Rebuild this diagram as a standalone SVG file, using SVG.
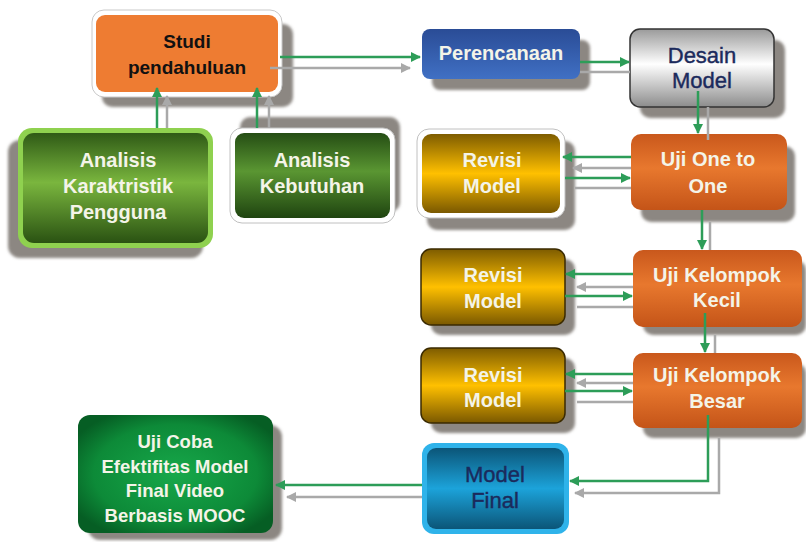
<svg xmlns="http://www.w3.org/2000/svg" width="806" height="542" viewBox="0 0 806 542">
<defs>
<linearGradient id="gOrange" x1="0" y1="0" x2="0" y2="1"><stop offset="0" stop-color="#c9581c"/><stop offset="0.45" stop-color="#e8782e"/><stop offset="1" stop-color="#c45418"/></linearGradient>
<linearGradient id="gGreenL" x1="0" y1="0" x2="0" y2="1"><stop offset="0" stop-color="#2f5a16"/><stop offset="0.45" stop-color="#7ab63e"/><stop offset="1" stop-color="#2a5212"/></linearGradient>
<linearGradient id="gGreenD" x1="0" y1="0" x2="0" y2="1"><stop offset="0" stop-color="#254d14"/><stop offset="0.45" stop-color="#5a9632"/><stop offset="1" stop-color="#1f4410"/></linearGradient>
<linearGradient id="gBlue" x1="0" y1="0" x2="0" y2="1"><stop offset="0" stop-color="#2a4c96"/><stop offset="1" stop-color="#4070c4"/></linearGradient>
<linearGradient id="gSilver" x1="0" y1="0" x2="0" y2="1"><stop offset="0" stop-color="#9a9a9a"/><stop offset="0.45" stop-color="#ffffff"/><stop offset="1" stop-color="#8c8c8c"/></linearGradient>
<linearGradient id="gGold" x1="0" y1="0" x2="0" y2="1"><stop offset="0" stop-color="#7e5c00"/><stop offset="0.5" stop-color="#ffc000"/><stop offset="1" stop-color="#7a5800"/></linearGradient>
<linearGradient id="gCyan" x1="0" y1="0" x2="0" y2="1"><stop offset="0" stop-color="#0b5578"/><stop offset="0.5" stop-color="#1ca3da"/><stop offset="1" stop-color="#0b5578"/></linearGradient>
<radialGradient id="gEmerald" cx="0.5" cy="0.5" r="0.6"><stop offset="0" stop-color="#17a84a"/><stop offset="0.7" stop-color="#0d8a38"/><stop offset="1" stop-color="#065e24"/></radialGradient>
<filter id="blur" x="-10%" y="-10%" width="120%" height="120%"><feGaussianBlur stdDeviation="1.5"/></filter>
<marker id="mG" viewBox="0 0 10 10" refX="9" refY="5" markerWidth="4" markerHeight="4" orient="auto" markerUnits="strokeWidth"><path d="M0,0 L10,5 L0,10 z" fill="#2d9d58"/></marker>
<marker id="mS" viewBox="0 0 10 10" refX="9" refY="5" markerWidth="4" markerHeight="4" orient="auto" markerUnits="strokeWidth"><path d="M0,0 L10,5 L0,10 z" fill="#a9a9a9"/></marker>
<style>
.sh{fill:#8c8782;filter:url(#blur)}
.t{font-family:"Liberation Sans",Arial,sans-serif;font-weight:bold;font-size:20px;text-anchor:middle;fill:#f4f4e8}
.tb{fill:#111;font-size:19px}
.tn{font-family:"Liberation Sans Narrow","Liberation Sans",Arial,sans-serif;font-size:22px;text-anchor:middle;fill:#1b2a5c;stroke:#1b2a5c;stroke-width:0.4}
.tc{font-size:18.5px}
.g{fill:none;stroke:#2d9d58;stroke-width:2.5}
.s{fill:none;stroke:#a9a9a9;stroke-width:2.5}
.ga{marker-end:url(#mG)}
.sa{marker-end:url(#mS)}
</style>
</defs>

<g id="shadows">
<rect class="sh" x="102" y="24" width="191" height="83" rx="10"/>
<rect class="sh" x="8" y="140" width="195" height="118" rx="12"/>
<rect class="sh" x="240" y="117" width="160" height="95" rx="10"/>
<rect class="sh" x="432" y="40" width="158" height="50" rx="8"/>
<rect class="sh" x="640" y="40" width="145" height="78" rx="10"/>
<rect class="sh" x="427" y="141" width="148" height="89" rx="10"/>
<rect class="sh" x="641" y="146" width="154" height="76" rx="10"/>
<rect class="sh" x="431" y="259" width="144" height="76" rx="10"/>
<rect class="sh" x="643" y="260" width="163" height="75" rx="10"/>
<rect class="sh" x="431" y="358" width="144" height="75" rx="10"/>
<rect class="sh" x="643" y="363" width="163" height="75" rx="10"/>
<rect class="sh" x="88" y="425" width="194" height="115" rx="12"/>
</g>

<g id="studi">
<rect x="92" y="10" width="190" height="87" rx="12" fill="#fff" stroke="#c8c8c8" stroke-width="1"/>
<rect x="96" y="15" width="182" height="77" rx="9" fill="#ee7c32"/>
<text class="t tb" x="187" y="48">Studi</text>
<text class="t tb" x="187" y="74">pendahuluan</text>
</g>

<g id="analisis-karakteristik">
<rect x="18" y="128" width="195" height="120" rx="14" fill="#8fd14f"/>
<rect x="23" y="133" width="185" height="110" rx="11" fill="url(#gGreenL)"/>
<text class="t" x="118" y="167">Analisis</text>
<text class="t" x="118" y="193">Karaktristik</text>
<text class="t" x="118" y="219">Pengguna</text>
</g>

<g id="analisis-kebutuhan">
<rect x="230" y="128" width="165" height="95" rx="12" fill="#fff" stroke="#c0c0c0" stroke-width="1"/>
<rect x="235" y="133" width="155" height="85" rx="9" fill="url(#gGreenD)"/>
<text class="t" x="312" y="167">Analisis</text>
<text class="t" x="312" y="193">Kebutuhan</text>
</g>

<g id="perencanaan">
<rect x="422" y="29" width="158" height="50" rx="8" fill="url(#gBlue)"/>
<text class="t" x="501" y="60">Perencanaan</text>
</g>

<g id="desain-model">
<rect x="630" y="29" width="144" height="78" rx="10" fill="url(#gSilver)" stroke="#333" stroke-width="1.5"/>
<text class="tn" x="702" y="63">Desain</text>
<text class="tn" x="702" y="88">Model</text>
</g>

<g id="revisi-1">
<rect x="417" y="129" width="148" height="89" rx="12" fill="#fff" stroke="#c0c0c0" stroke-width="1"/>
<rect x="422" y="134" width="138" height="79" rx="9" fill="url(#gGold)"/>
<text class="t" x="492" y="167">Revisi</text>
<text class="t" x="492" y="193">Model</text>
</g>

<g id="uji-one-to-one">
<rect x="631" y="134" width="156" height="76" rx="10" fill="url(#gOrange)"/>
<text class="t" x="708" y="166">Uji One to</text>
<text class="t" x="708" y="193">One</text>
</g>

<g id="revisi-2">
<rect x="421" y="249" width="144" height="76" rx="10" fill="url(#gGold)" stroke="#3a2a00" stroke-width="1.5"/>
<text class="t" x="493" y="282">Revisi</text>
<text class="t" x="493" y="308">Model</text>
</g>

<g id="uji-kelompok-kecil">
<rect x="633" y="250" width="169" height="77" rx="10" fill="url(#gOrange)"/>
<text class="t" x="717" y="282">Uji Kelompok</text>
<text class="t" x="717" y="307">Kecil</text>
</g>

<g id="revisi-3">
<rect x="421" y="348" width="144" height="75" rx="10" fill="url(#gGold)" stroke="#3a2a00" stroke-width="1.5"/>
<text class="t" x="493" y="382">Revisi</text>
<text class="t" x="493" y="407">Model</text>
</g>

<g id="uji-kelompok-besar">
<rect x="633" y="353" width="169" height="75" rx="10" fill="url(#gOrange)"/>
<text class="t" x="717" y="382">Uji Kelompok</text>
<text class="t" x="717" y="408">Besar</text>
</g>

<g id="model-final">
<rect x="422" y="443" width="147" height="91" rx="12" fill="#2fb3ea"/>
<rect x="427" y="448" width="137" height="81" rx="9" fill="url(#gCyan)"/>
<text class="tn" x="495" y="482">Model</text>
<text class="tn" x="495" y="508">Final</text>
</g>

<g id="uji-coba">
<rect x="78" y="415" width="195" height="118" rx="12" fill="url(#gEmerald)"/>
<text class="t tc" x="175" y="448">Uji Coba</text>
<text class="t tc" x="175" y="473">Efektifitas Model</text>
<text class="t tc" x="175" y="497">Final Video</text>
<text class="t tc" x="175" y="522">Berbasis MOOC</text>
</g>

<g id="connectors">
<path class="g ga" d="M280,57 H420"/>
<path class="s sa" d="M270,68 H410"/>
<path class="g ga" d="M157,128 V88"/>
<path class="s sa" d="M167,128 V96"/>
<path class="g ga" d="M257,128 V88"/>
<path class="s sa" d="M269,128 V96"/>
<path class="g ga" d="M580,62 H629"/>
<path class="s" d="M580,72 H630"/>
<path class="g ga" d="M698,91 V133"/>
<path class="s" d="M708,107 V140"/>
<path class="g ga" d="M631,157 H563"/>
<path class="s sa" d="M631,168 H573"/>
<path class="g ga" d="M565,178 H630"/>
<path class="s" d="M575,188 H631"/>
<path class="g ga" d="M702,210 V249"/>
<path class="s" d="M710,222 V250"/>
<path class="g ga" d="M633,274 H566"/>
<path class="s sa" d="M633,287 H577"/>
<path class="g ga" d="M565,296 H632"/>
<path class="s" d="M577,307 H633"/>
<path class="g ga" d="M705,313 V352"/>
<path class="s" d="M715,335 V353"/>
<path class="g ga" d="M633,374 H566"/>
<path class="s sa" d="M633,383 H577"/>
<path class="g ga" d="M565,391 H632"/>
<path class="s" d="M577,402 H633"/>
<path class="g ga" d="M708,415 V481 H570"/>
<path class="s sa" d="M719,438 V493 H575"/>
<path class="g ga" d="M422,485 H276"/>
<path class="s sa" d="M422,497 H287"/>
</g>
</svg>
